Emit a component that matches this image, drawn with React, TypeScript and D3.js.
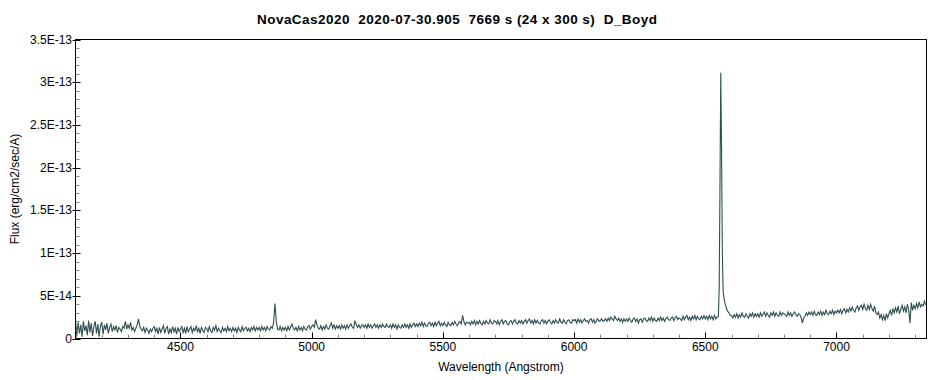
import React from "react";
import * as d3 from "d3";

// ---- data (flux in units of 1e-14 erg/cm2/sec/A) ----
const WL_START = 4100;
const WL_STEP = 5;
const fluxGrid: number[] = [
  // 4100
  2.2, 0.3, 1.9, 0.6, 1.6, 0.2, 2.0, 0.9, 1.5, 0.4, 2.1, 0.7, 1.8, 0.3, 1.4, 2.0, 0.6, 1.7, 0.2, 1.5,
  // 4200
  1.9, 0.5, 1.6, 1.0, 1.8, 0.6, 1.3, 1.7, 0.8, 1.4, 1.0, 1.5, 0.7, 1.3, 1.1, 0.8, 1.4, 1.2, 2.0, 1.1,
  // 4300
  1.6, 1.2, 1.9, 1.0, 1.3, 0.8, 1.2, 1.6, 2.3, 1.4, 1.1, 0.9, 1.3, 0.7, 1.2, 1.0, 0.6, 1.1, 0.8, 1.2,
  // 4400
  1.4, 0.8, 1.2, 0.5, 1.3, 0.7, 1.1, 1.5, 0.6, 1.2, 1.4, 0.5, 1.1, 0.7, 1.4, 0.8, 1.2, 0.5, 1.3, 0.8,
  // 4500
  1.1, 1.4, 0.7, 1.2, 0.6, 1.4, 0.8, 1.1, 1.4, 0.7, 1.2, 0.9, 1.5, 0.8, 1.2, 0.6, 1.3, 0.9, 0.7, 1.3,
  // 4600
  1.2, 0.8, 1.4, 0.9, 0.7, 1.3, 1.0, 1.5, 0.8, 1.2, 0.9, 0.7, 1.3, 0.9, 1.2, 0.8, 1.4, 0.9, 1.2, 0.8,
  // 4700
  1.3, 0.9, 1.2, 0.7, 1.3, 1.0, 0.8, 1.4, 0.9, 1.2, 1.3, 0.9, 1.2, 0.8, 1.3, 1.0, 1.4, 0.9, 1.3, 1.0,
  // 4800
  1.3, 0.9, 1.4, 1.0, 1.3, 0.9, 1.4, 1.1, 1.0, 1.4, 1.2, 1.9, 4.1, 2.0, 1.1, 1.0, 1.4, 0.9, 1.3, 1.0,
  // 4900
  1.3, 0.9, 1.4, 1.0, 1.4, 1.7, 1.2, 1.0, 1.3, 0.9, 1.4, 1.0, 1.3, 0.9, 1.4, 1.1, 1.0, 1.4, 1.5, 1.1,
  // 5000
  1.4, 1.6, 1.3, 2.2, 1.6, 1.2, 1.1, 1.5, 1.0, 1.4, 1.1, 1.6, 1.2, 1.1, 1.5, 1.8, 1.2, 1.6, 1.1, 1.5,
  // 5100
  1.2, 1.5, 1.1, 1.6, 1.2, 1.5, 1.1, 1.6, 1.2, 1.5, 1.7, 1.3, 1.2, 2.1, 1.6, 1.3, 1.6, 1.2, 1.5, 1.6,
  // 5200
  1.3, 1.6, 1.2, 1.7, 1.3, 1.6, 1.2, 1.5, 1.7, 1.3, 1.6, 1.2, 1.6, 1.3, 1.7, 1.4, 1.3, 1.7, 1.4, 1.3,
  // 5300
  1.6, 1.2, 1.7, 1.3, 1.6, 1.1, 1.6, 1.3, 1.2, 1.6, 1.3, 1.7, 1.3, 1.6, 1.2, 1.7, 1.3, 1.6, 1.8, 1.4,
  // 5400
  1.7, 1.4, 1.8, 1.5, 1.9, 1.4, 1.8, 1.5, 1.4, 1.8, 1.9, 1.5, 1.8, 1.4, 1.9, 1.5, 1.8, 2.0, 1.5, 1.8,
  // 5500
  1.5, 1.9, 1.6, 1.4, 1.9, 1.6, 1.5, 1.9, 1.6, 2.0, 1.7, 1.5, 1.8, 2.0, 1.7, 2.7, 2.0, 1.6, 1.9, 1.8,
  // 5600
  1.9, 1.6, 2.0, 1.7, 2.1, 1.6, 2.0, 1.7, 2.1, 1.7, 1.6, 2.0, 1.7, 2.1, 1.8, 1.7, 2.2, 1.8, 1.7, 2.1,
  // 5700
  2.0, 1.7, 2.1, 1.6, 2.0, 2.2, 1.7, 2.0, 2.1, 1.7, 1.6, 2.0, 2.1, 1.7, 2.0, 2.2, 1.8, 1.7, 2.1, 1.8,
  // 5800
  2.1, 1.7, 2.0, 2.2, 1.8, 2.1, 2.3, 1.8, 2.1, 1.7, 2.2, 1.8, 2.1, 1.8, 1.7, 2.1, 2.2, 1.8, 2.1, 1.7,
  // 5900
  2.0, 2.2, 1.9, 1.7, 2.1, 1.8, 2.2, 1.9, 1.8, 2.3, 1.9, 1.8, 2.2, 1.9, 1.7, 2.1, 2.2, 1.9, 1.8, 2.2,
  // 6000
  2.1, 2.2, 1.8, 2.3, 1.9, 2.2, 1.8, 2.1, 2.3, 2.0, 2.1, 1.8, 2.2, 2.3, 1.9, 2.2, 1.8, 2.1, 2.3, 2.0,
  // 6100
  2.1, 2.3, 2.0, 2.1, 2.3, 2.0, 2.4, 2.1, 2.5, 2.3, 2.1, 2.6, 2.3, 2.1, 2.4, 2.0, 2.3, 1.9, 2.3, 2.0,
  // 6200
  2.3, 2.0, 2.4, 2.1, 1.9, 2.3, 2.4, 2.0, 2.3, 1.8, 2.2, 2.3, 1.9, 2.3, 2.4, 2.1, 2.0, 2.4, 2.1, 2.5,
  // 6300
  2.0, 2.4, 2.1, 2.0, 2.4, 2.1, 2.5, 2.1, 2.4, 2.0, 2.3, 2.5, 2.2, 2.1, 2.4, 2.5, 2.1, 2.4, 2.6, 2.2,
  // 6400
  2.4, 2.3, 2.1, 2.6, 2.2, 2.5, 2.7, 2.2, 2.5, 2.1, 2.6, 2.3, 2.7, 2.2, 2.6, 2.3, 2.2, 2.6, 2.3, 2.7,
  // 6500
  2.3, 2.6, 2.2, 2.7, 2.3, 2.6, 2.2, 2.7, 2.3, 2.5, 2.5, 2.5, 2.5, 2.5, 2.5, 2.5, 2.5, 2.5, 2.5, 2.5,
  // 6600
  2.7, 2.4, 2.8, 2.5, 2.9, 2.4, 2.8, 2.5, 3.0, 2.6, 2.5, 2.9, 2.6, 2.4, 2.9, 2.6, 3.0, 2.5, 2.9, 2.6,
  // 6700
  2.9, 2.5, 3.0, 2.6, 2.9, 3.1, 2.6, 3.0, 2.7, 2.5, 3.0, 2.7, 3.1, 2.6, 3.0, 2.7, 2.6, 3.1, 2.7, 3.0,
  // 6800
  2.9, 2.8, 2.6, 3.1, 2.7, 3.0, 2.6, 2.9, 3.1, 2.8, 2.6, 2.9, 2.8, 2.5, 1.8, 2.4, 2.6, 3.0, 2.7, 3.1,
  // 6900
  2.8, 3.1, 2.7, 3.2, 2.8, 2.7, 3.1, 2.8, 3.2, 2.7, 3.1, 2.8, 3.3, 2.9, 2.8, 3.2, 2.9, 3.3, 2.8, 3.2,
  // 7000
  3.0, 3.3, 3.0, 3.4, 2.9, 3.3, 3.5, 3.0, 3.4, 3.1, 3.6, 3.2, 3.7, 3.3, 3.1, 3.6, 3.8, 3.3, 3.7, 3.9,
  // 7100
  3.4, 4.0, 3.5, 3.3, 3.9, 3.4, 4.0, 3.5, 3.2, 3.8, 3.0, 2.8, 3.1, 2.4, 2.8, 2.2, 2.7, 2.1, 2.9, 2.4,
  // 7200
  2.9, 3.3, 2.7, 3.5, 3.0, 3.6, 3.1, 3.8, 2.9, 3.4, 3.9, 3.2, 3.7, 3.0, 4.0, 3.4, 1.8, 4.2, 3.3, 3.9,
  // 7300
  3.5, 4.1, 3.6, 4.3, 3.7, 4.0, 3.8, 4.4, 3.9,
];

// H-alpha line profile, higher resolution
const haWavelengths = [6547, 6550, 6553, 6556, 6559, 6562, 6565, 6568, 6572, 6576, 6580, 6585, 6590, 6595];
const haFlux = [2.5, 2.6, 6.0, 18.0, 31.1, 22.0, 10.0, 5.5, 4.6, 4.0, 3.6, 3.2, 3.0, 2.7];

const xTickValues = [4500, 5000, 5500, 6000, 6500, 7000];
const xTickLabels = ["4500", "5000", "5500", "6000", "6500", "7000"];
const yTickValues = [0, 5e-14, 1e-13, 1.5e-13, 2e-13, 2.5e-13, 3e-13, 3.5e-13];
const yTickLabels = ["0", "5E-14", "1E-13", "1.5E-13", "2E-13", "2.5E-13", "3E-13", "3.5E-13"];

const TITLE = "NovaCas2020  2020-07-30.905  7669 s (24 x 300 s)  D_Boyd";
const X_TITLE = "Wavelength (Angstrom)";
const Y_TITLE = "Flux (erg/cm2/sec/A)";

export default function App() {
  const W = 939, H = 380;
  const L = 75.5, R = 926.5, T = 39.5, B = 338.5;

  const x = d3.scaleLinear().domain([4100, 7343]).range([L, R]);
  const y = d3.scaleLinear().domain([0, 3.5e-13]).range([B, T]);

  const pts: [number, number][] = [];
  fluxGrid.forEach((f, i) => {
    const wl = WL_START + i * WL_STEP;
    if (wl > haWavelengths[0] - 1 && wl < haWavelengths[haWavelengths.length - 1] + 1) return;
    pts.push([wl, f * 1e-14]);
  });
  haWavelengths.forEach((wl, i) => pts.push([wl, haFlux[i] * 1e-14]));
  pts.sort((a, b) => a[0] - b[0]);

  const line = d3.line<[number, number]>().x(d => x(d[0])).y(d => y(d[1]));

  const xMinor = d3.range(4100, 7343, 100).filter(v => !xTickValues.includes(v));
  const yMinor = d3.range(0, 36).map(i => i * 1e-14).filter((_, i) => i % 5 !== 0);

  const font = "'Liberation Sans', Arial, sans-serif";

  return (
    <svg width={W} height={H} style={{ position: "absolute", left: 0, top: 0, background: "#fff" }}
      fontFamily={font}>
      <rect x={0} y={0} width={W} height={H} fill="#fff" />
      <text x={257} y={24} fontSize={13.5} fontWeight="bold" textLength={400} lengthAdjust="spacing"
        style={{ whiteSpace: "pre" }}>{TITLE}</text>
      <defs>
        <clipPath id="plotclip">
          <rect x={L} y={T} width={R - L} height={B - T} />
        </clipPath>
      </defs>
      <path d={line(pts) || ""} fill="none" stroke="#2F4F4F" strokeWidth={1.1} clipPath="url(#plotclip)" />
      <rect x={L} y={T} width={R - L} height={B - T} fill="none" stroke="#000" strokeWidth={1} />
      {/* x ticks */}
      {xTickValues.map((v, i) => (
        <g key={"xt" + v}>
          <line x1={Math.round(x(v)) + 0.5} x2={Math.round(x(v)) + 0.5} y1={B} y2={B - 6} stroke="#000" />
          <text x={x(v)} y={351} textAnchor="middle" fontSize={12}>{xTickLabels[i]}</text>
        </g>
      ))}
      {xMinor.map(v => (
        <line key={"xm" + v} x1={Math.round(x(v)) + 0.5} x2={Math.round(x(v)) + 0.5} y1={B} y2={B - 4} stroke="#888" />
      ))}
      {/* y ticks */}
      {yTickValues.map((v, i) => (
        <g key={"yt" + v}>
          <line x1={L - 3} x2={L + 5} y1={Math.round(y(v)) + 0.5} y2={Math.round(y(v)) + 0.5} stroke="#000" />
          <text x={72} y={y(v) + 4} textAnchor="end" fontSize={12}>{yTickLabels[i]}</text>
        </g>
      ))}
      {yMinor.map((v, i) => (
        <line key={"ym" + i} x1={L} x2={L + 4} y1={Math.round(y(v)) + 0.5} y2={Math.round(y(v)) + 0.5} stroke="#888" />
      ))}
      <text x={(L + R) / 2} y={371} textAnchor="middle" fontSize={12}>{X_TITLE}</text>
      <text transform={`translate(19, ${(T + B) / 2}) rotate(-90)`} textAnchor="middle" fontSize={12}>{Y_TITLE}</text>
    </svg>
  );
}
